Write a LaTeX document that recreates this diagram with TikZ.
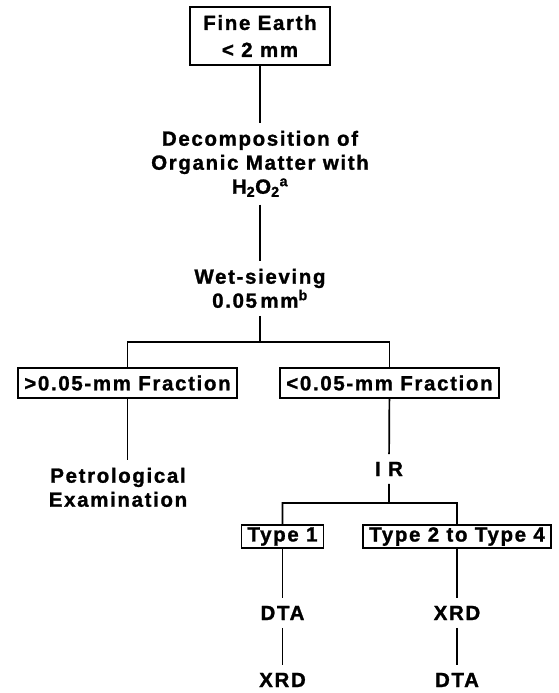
\documentclass[tikz,border=0pt]{standalone}
\usepackage{fontspec}
\setmainfont{Liberation Sans}[LetterSpace=8,BoldFeatures={FakeBold=1.2}]

\begin{document}
\begin{tikzpicture}[x=1pt,y=-1pt,line width=1.7pt,
    every node/.style={font=\fontsize{20.5}{24}\selectfont\bfseries,align=center,inner xsep=2pt,inner ysep=7pt},
    sample/.style={draw,inner xsep=6pt,inner ysep=3pt}]
  \useasboundingbox (0,0) rectangle (558,693);
  \node[sample,minimum width=140pt,minimum height=58pt,font=\fontsize{20.5}{27}\selectfont\bfseries] (fine) at (260,36) {Fine Earth\\< 2 mm};
  \node[anchor=north] (decomp) at (260,123) {Decomposition of\\Organic Matter with\\H\textsubscript{2}O\textsubscript{2}\textsuperscript{a}};
  \node[anchor=north] (wet) at (260,261) {Wet-sieving\\0.05\,mm\textsuperscript{b}};
  \node[sample,minimum height=30pt] (coarse) at (127.5,383) {>0.05-mm Fraction};
  \node[sample,minimum height=30pt] (silt) at (389.5,383) {<0.05-mm Fraction};
  \node[anchor=north] (petro) at (118,460) {Petrological\\Examination};
  \node[anchor=base] (ir) at (389,476) {I R};
  \node[sample,minimum height=23pt,inner ysep=2pt] (type1) at (282.5,536.5) {Type 1};
  \node[sample,minimum height=23pt,inner ysep=2pt] (type2) at (457,536.5) {Type 2 to Type 4};
  \node[anchor=base] (dta1) at (282.5,620) {DTA};
  \node[anchor=base] (xrd1) at (282.5,687) {XRD};
  \node[anchor=base] (xrd2) at (457,620) {XRD};
  \node[anchor=base] (dta2) at (457,687) {DTA};
  \coordinate (sieve) at (260,342);
  \coordinate (irsplit) at (389,503);

  \draw (fine) -- (decomp) -- (wet) -- (sieve) -| (coarse);
  \draw (sieve) -| (silt);
  \draw (coarse) -- (coarse |- petro.north);
  \draw (silt) -- (ir) -- (irsplit) -| (type1);
  \draw (irsplit) -| (type2);
  \draw (type1) -- (dta1) -- (xrd1);
  \draw (type2) -- (xrd2) -- (dta2);
\end{tikzpicture}
\end{document}
